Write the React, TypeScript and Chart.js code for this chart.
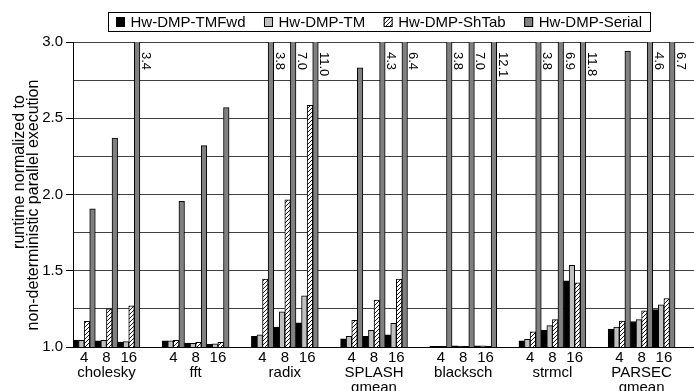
import React, { useEffect, useRef } from 'react';
import { Chart, registerables } from 'chart.js';

Chart.register(...registerables);

const groups: string[][] = [
  ['cholesky'],
  ['fft'],
  ['radix'],
  ['SPLASH', 'gmean'],
  ['blacksch'],
  ['strmcl'],
  ['PARSEC', 'gmean'],
];
const threadLabels = ['4', '8', '16'];
const seriesNames = ['Hw-DMP-TMFwd', 'Hw-DMP-TM', 'Hw-DMP-ShTab', 'Hw-DMP-Serial'];

const tmFwd = [1.046, 1.04, 1.033, 1.04, 1.026, 1.017, 1.07, 1.13, 1.158, 1.053, 1.07, 1.08, 1.005, 1.008, 1.008, 1.04, 1.11, 1.434, 1.118, 1.167, 1.245];
const tm = [1.044, 1.044, 1.035, 1.04, 1.024, 1.02, 1.08, 1.23, 1.335, 1.07, 1.11, 1.156, 1.005, 1.006, 1.007, 1.05, 1.14, 1.535, 1.13, 1.18, 1.276];
const shTab = [1.169, 1.25, 1.27, 1.044, 1.03, 1.03, 1.445, 1.965, 2.585, 1.175, 1.307, 1.445, 1.004, 1.004, 1.005, 1.1, 1.18, 1.42, 1.17, 1.237, 1.318];
const serial = [1.906, 2.37, 3.4, 1.956, 2.32, 2.57, 3.8, 7.0, 11.0, 2.83, 4.3, 6.4, 3.8, 7.0, 12.1, 3.8, 6.9, 11.8, 2.94, 4.6, 6.7];

const yMin = 1.0;
const yMax = 3.0;
const yStep = 0.25;
const yTitle = ['runtime normalized to', 'non-deterministic parallel execution'];

const FONT = '"Liberation Sans", Arial, Helvetica, sans-serif';

// slot positions: 3 thread counts per group + 1 empty slot
const slotX: number[] = [];
const slotLabel: Record<number, string | string[]> = {};
groups.forEach((g, gi) => {
  threadLabels.forEach((t, ti) => {
    const s = gi * 4 + ti;
    slotX.push(s);
    slotLabel[s] = ti === 1 ? [t, ...g] : t;
  });
});

function makeHatch(): CanvasPattern {
  const c = document.createElement('canvas');
  c.width = 4;
  c.height = 4;
  const g = c.getContext('2d')!;
  g.fillStyle = '#fff';
  g.fillRect(0, 0, 4, 4);
  g.strokeStyle = '#000';
  g.lineWidth = 0.9;
  g.beginPath();
  g.moveTo(0, 4);
  g.lineTo(4, 0);
  g.moveTo(-1, 1);
  g.lineTo(1, -1);
  g.moveTo(3, 5);
  g.lineTo(5, 3);
  g.stroke();
  return g.createPattern(c, 'repeat')!;
}

const isHalf = (v: number) => Math.abs(v * 2 - Math.round(v * 2)) < 1e-6;

export default function App() {
  const ref = useRef<HTMLCanvasElement>(null);

  useEffect(() => {
    const hatch = makeHatch();
    const fills: (string | CanvasPattern)[] = ['#000000', '#c0c0c0', hatch, '#808080'];
    const values = [tmFwd, tm, shTab, serial];

    const decor = {
      id: 'decor',
      afterDraw(chart: any) {
        const ctx: CanvasRenderingContext2D = chart.ctx;
        const area = chart.chartArea;
        ctx.save();
        // value labels for clipped bars
        const meta = chart.getDatasetMeta(3);
        ctx.fillStyle = '#000';
        ctx.font = `13px ${FONT}`;
        ctx.textAlign = 'left';
        ctx.textBaseline = 'alphabetic';
        serial.forEach((v, i) => {
          if (v <= yMax) return;
          const bar = meta.data[i];
          const x = bar.x + bar.width / 2 + 2;
          const y = area.top + 10;
          ctx.save();
          ctx.translate(x, y);
          ctx.rotate(Math.PI / 2);
          ctx.fillText(v.toFixed(1), 0, 0);
          ctx.restore();
        });

        // y axis title
        ctx.font = `16px ${FONT}`;
        ctx.textAlign = 'center';
        ctx.textBaseline = 'middle';
        const tpos = [
          [20, 172],
          [34, 205],
        ];
        yTitle.forEach((t, i) => {
          ctx.save();
          ctx.translate(tpos[i][0], tpos[i][1]);
          ctx.rotate(-Math.PI / 2);
          ctx.fillText(t, 0, 0);
          ctx.restore();
        });

        // legend
        ctx.font = `15px ${FONT}`;
        ctx.textAlign = 'left';
        ctx.textBaseline = 'middle';
        let x = 116;
        const boxLeft = 108;
        seriesNames.forEach((name, i) => {
          ctx.fillStyle = fills[i] as any;
          ctx.fillRect(x, 17, 9, 10);
          ctx.strokeStyle = '#000';
          ctx.lineWidth = 1;
          ctx.strokeRect(x + 0.5, 17.5, 8, 9);
          ctx.fillStyle = '#000';
          const tx = x + 14.5;
          ctx.fillText(name, tx, 22.5);
          const w = ctx.measureText(name).width;
          x = tx + w + 18.5;
        });
        const boxRight = x - 18.5 + 8;
        ctx.strokeStyle = '#000';
        ctx.lineWidth = 1;
        ctx.strokeRect(boxLeft + 0.5, 12.5, boxRight - boxLeft, 19);
        ctx.restore();
      },
    };

    const chart = new Chart(ref.current!, {
      type: 'bar',
      data: {
        datasets: seriesNames.map((name, si) => ({
          label: name,
          data: values[si].map((v, i) => ({ x: slotX[i], y: v })),
          backgroundColor: fills[si] as any,
          borderColor: '#000',
          borderWidth: 1,
          categoryPercentage: 1,
          barPercentage: 1,
        })),
      },
      options: {
        responsive: false,
        animation: false,
        events: [],
        layout: { padding: { top: 42, left: 0, right: 0, bottom: 0 } },
        plugins: {
          legend: { display: false },
          tooltip: { enabled: false },
        },
        scales: {
          x: {
            type: 'linear',
            min: -0.5,
            max: 27.35,
            offset: false,
            grid: { display: false, drawTicks: false, offset: false },
            border: { display: true, color: '#000', width: 1 },
            afterBuildTicks: (s: any) => {
              s.ticks = slotX.map((v) => ({ value: v }));
            },
            afterFit: (s: any) => {
              s.height = 44;
            },
            ticks: {
              autoSkip: false,
              maxRotation: 0,
              minRotation: 0,
              padding: 3,
              color: '#000',
              font: { family: FONT, size: 15, lineHeight: 1 },
              callback: (v: any) => slotLabel[Math.round(Number(v))] ?? '',
            },
          },
          y: {
            type: 'linear',
            min: yMin,
            max: yMax,
            afterFit: (s: any) => {
              s.width = 73;
            },
            ticks: {
              stepSize: yStep,
              autoSkip: false,
              padding: 3,
              color: '#000',
              font: { family: FONT, size: 15, lineHeight: 1 },
              callback: (v: any) => (isHalf(Number(v)) ? Number(v).toFixed(1) : ''),
            },
            grid: {
              color: '#404040',
              lineWidth: 1,
              drawTicks: true,
              tickLength: 7,
              tickColor: (c: any) => (c.tick && isHalf(c.tick.value) ? '#000' : 'rgba(0,0,0,0)'),
            },
            border: { display: true, color: '#000', width: 1 },
          },
        },
      },
      plugins: [decor],
    });
    return () => chart.destroy();
  }, []);

  return (
    <div style={{ position: 'absolute', left: 0, top: 0, width: 694, height: 391, overflow: 'hidden', background: '#fff' }}>
      <canvas ref={ref} width={694} height={391} style={{ display: 'block' }} />
    </div>
  );
}
